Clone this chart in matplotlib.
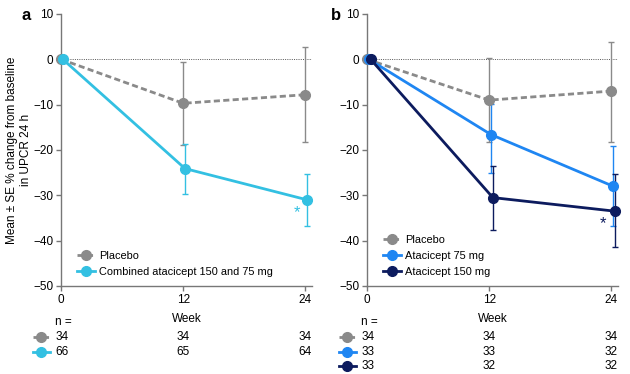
import numpy as np
import matplotlib.pyplot as plt
from matplotlib.lines import Line2D

plt.rcParams['font.family'] = ['Liberation Sans', 'DejaVu Sans']
plt.rcParams['font.size'] = 8

# data
weeks = [0, 12, 24]

# panel a
a_names = ['Placebo', 'Combined atacicept 150 and 75 mg']
a_mean = [[0, -9.7, -7.8], [0, -24.1, -31.0]]
a_err_hi = [[0, -0.5, 2.7], [0, -18.6, -25.3]]
a_err_lo = [[0, -18.8, -18.3], [0, -29.8, -36.7]]
a_n = [[34, 34, 34], [66, 65, 64]]

# panel b
b_names = ['Placebo', 'Atacicept 75 mg', 'Atacicept 150 mg']
b_mean = [[0, -9.0, -7.0], [0, -16.6, -28.0], [0, -30.5, -33.5]]
b_err_hi = [[0, 0.2, 3.9], [0, -9.9, -19.2], [0, -23.5, -25.4]]
b_err_lo = [[0, -18.2, -18.2], [0, -25.0, -36.7], [0, -37.6, -41.5]]
b_n = [[34, 34, 34], [33, 33, 32], [33, 32, 32]]

yticks = [10, 0, -10, -20, -30, -40, -50]

# style
GRAY = '#8a8a8a'
CYAN = '#33c0e2'
BLUE = '#1f86f2'
NAVY = '#0c1b5e'
a_colors = [GRAY, CYAN]
b_colors = [GRAY, BLUE, NAVY]
MS = 7


def style(ax):
    ax.set_xlim(0, 24.65)
    ax.set_ylim(-50, 10)
    ax.set_yticks(yticks)
    ax.set_yticklabels([str(t).replace('-', '\u2212') for t in yticks])
    ax.set_xticks(weeks)
    for s in ['top', 'right']:
        ax.spines[s].set_visible(False)
    for s in ['left', 'bottom']:
        ax.spines[s].set_color('#777777')
        ax.spines[s].set_linewidth(1.0)
    ax.tick_params(direction='out', length=3.5, width=1.0, color='#777777',
                   labelsize=8.5, pad=2)
    ax.axhline(0, color='#555555', lw=0.7, ls=(0, (1, 1.3)), zorder=1)
    ax.set_xlabel('Week', fontsize=8.5, labelpad=5)


def draw(ax, means, hi, lo, colors):
    handles = []
    for i, (m, h, l, c) in enumerate(zip(means, hi, lo, colors)):
        x = np.array(weeks) + 0.18 * i
        m = np.array(m)
        yerr = [m - np.array(l), np.array(h) - m]
        ls = (0, (2.2, 1.2)) if i == 0 else '-'
        ax.errorbar(x[1:], m[1:], yerr=[yerr[0][1:], yerr[1][1:]], fmt='none',
                    ecolor=c, elinewidth=1.0, capsize=2.5, capthick=1.0,
                    zorder=2 + i)
        ax.plot(x, m, color=c, lw=2.0, ls=ls, marker='o', ms=MS,
                zorder=5 + i, clip_on=False)
        handles.append(Line2D([], [], color=c, lw=2.0, ls=ls, marker='o', ms=MS))
    return handles


def ntable(ax, nvals, colors):
    tr = ax.get_xaxis_transform()
    ax.text(-0.55, -0.132, 'n =', transform=tr, ha='left', va='center',
            fontsize=8.5, clip_on=False)
    for r, (row, c) in enumerate(zip(nvals, colors)):
        y = -0.188 - 0.053 * r
        ls = (0, (2.2, 1.2)) if r == 0 else '-'
        ax.add_line(Line2D([-0.112, -0.078, -0.044], [y, y, y],
                           transform=ax.transAxes, color=c, lw=2.0, ls=ls,
                           marker='o', markevery=[1], ms=MS, clip_on=False))
        for k, (w, v) in enumerate(zip(weeks, row)):
            ax.text(w - 0.55 if k == 0 else w, y, str(v), transform=tr,
                    ha='left' if k == 0 else 'center', va='center',
                    fontsize=8.5, clip_on=False)


fig = plt.figure(figsize=(6.3, 3.74), dpi=100)
axA = fig.add_axes([61 / 630, 88 / 374, 251 / 630, 272 / 374])
axB = fig.add_axes([367 / 630, 88 / 374, 251 / 630, 272 / 374])

style(axA)
style(axB)

hA = draw(axA, a_mean, a_err_hi, a_err_lo, a_colors)
hB = draw(axB, b_mean, b_err_hi, b_err_lo, b_colors)

for ax, h, names in [(axA, hA, a_names), (axB, hB, b_names)]:
    ax.legend(h, names, loc='lower left', bbox_to_anchor=(0.035, 0.005),
              frameon=False, fontsize=7.9, handlelength=1.6,
              handletextpad=0.4, labelspacing=0.55, borderaxespad=0.3)

# significance markers
axA.text(23.2, -33.8, '*', color=CYAN, fontsize=12, ha='center', va='center')
axB.text(23.2, -36.2, '*', color=NAVY, fontsize=12, ha='center', va='center')

axA.set_ylabel('Mean \u00b1 SE % change from baseline\nin UPCR 24 h',
               fontsize=8.5, labelpad=1, linespacing=1.2)

ntable(axA, a_n, a_colors)
ntable(axB, b_n, b_colors)

fig.text(21 / 630, 1 - 15 / 374, 'a', fontsize=12, fontweight='bold',
         ha='left', va='center')
fig.text(331 / 630, 1 - 15 / 374, 'b', fontsize=12, fontweight='bold',
         ha='left', va='center')

fig.savefig('out.png', dpi=100)
